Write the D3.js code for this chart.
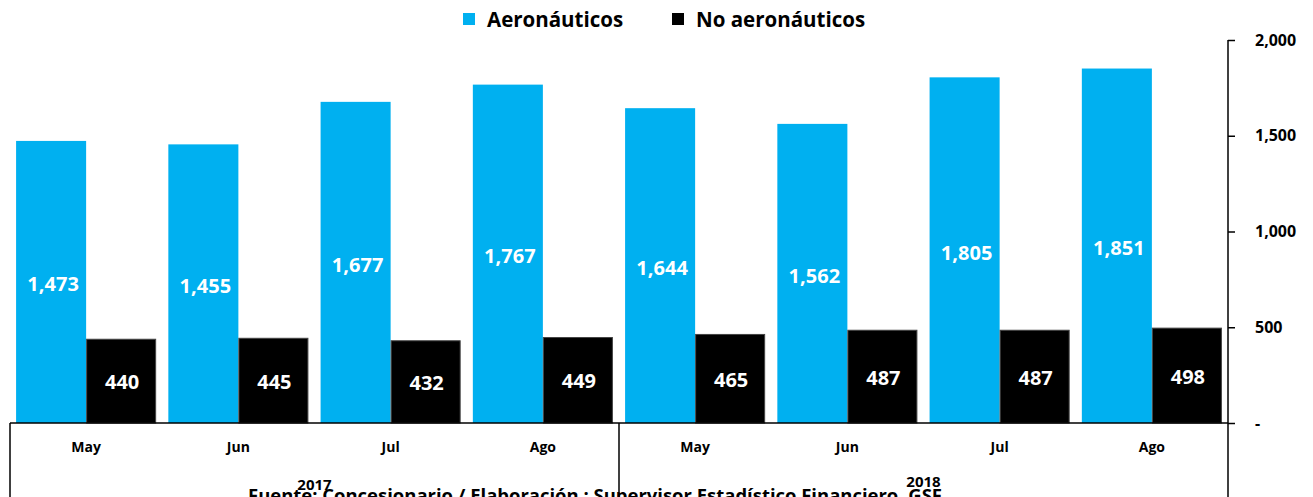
<!DOCTYPE html>
<html>
<head>
<meta charset="utf-8">
<script src="https://cdn.jsdelivr.net/npm/d3@7"></script>
<style>
  html, body { margin: 0; padding: 0; background: #fff; }
  svg { display: block; font-family: "Open Sans", "Noto Sans", sans-serif; }
</style>
</head>
<body>
<svg id="chart" width="1313" height="497"></svg>
<script>
// Ingresos por tipo, mayo–agosto 2017 y 2018
const months = ["May", "Jun", "Jul", "Ago", "May", "Jun", "Jul", "Ago"];
const years = ["2017", "2018"];
const aeronauticos = [1473, 1455, 1677, 1767, 1644, 1562, 1805, 1851];
const noAeronauticos = [440, 445, 432, 449, 465, 487, 487, 498];
const yTicks = [0, 500, 1000, 1500, 2000];
const seriesNames = ["Aeronáuticos", "No aeronáuticos"];
const source = "Fuente: Concesionario / Elaboración : Supervisor Estadístico Financiero. GSF";

const cyan = "#00B0F0";
const black = "#000000";

const svg = d3.select("#chart");
const plotLeft = 10, plotRight = 1228, plotTop = 40, base = 423;

const idx = d3.range(months.length);
const x = d3.scaleBand().domain(idx).range([plotLeft, plotRight]).paddingInner(0.08).paddingOuter(0.04);
const xs = d3.scaleBand().domain([0, 1]).range([0, x.bandwidth()]);
const y = d3.scaleLinear().domain([0, 2000]).range([base, plotTop]);

const fmt = d3.format(",");

// bars
const groups = svg.append("g").selectAll("g").data(idx).join("g")
  .attr("transform", i => `translate(${x(i)},0)`);

groups.append("rect")
  .attr("x", xs(0)).attr("width", xs.bandwidth())
  .attr("y", i => y(aeronauticos[i])).attr("height", i => base - y(aeronauticos[i]))
  .attr("fill", cyan);

groups.append("rect")
  .attr("x", xs(1) + 0.5).attr("width", xs.bandwidth() - 1)
  .attr("y", i => y(noAeronauticos[i]) + 0.5).attr("height", i => base - y(noAeronauticos[i]) - 0.5)
  .attr("fill", black).attr("stroke", "#444").attr("stroke-width", 1);

// value labels
groups.append("text")
  .attr("x", xs(0) + xs.bandwidth() / 2 + 2)
  .attr("y", i => (y(aeronauticos[i]) + base) / 2 + 4)
  .attr("text-anchor", "middle").attr("dominant-baseline", "middle")
  .attr("fill", "#fff").attr("font-weight", 700).attr("font-size", 20)
  .text(i => fmt(aeronauticos[i]));

groups.append("text")
  .attr("x", xs(1) + xs.bandwidth() / 2 + 1)
  .attr("y", i => (y(noAeronauticos[i]) + base) / 2 + 3)
  .attr("text-anchor", "middle").attr("dominant-baseline", "middle")
  .attr("fill", "#fff").attr("font-weight", 700).attr("font-size", 20)
  .text(i => fmt(noAeronauticos[i]));

// category axis frame
const mid = (x(3) + x.bandwidth() + x(4)) / 2;
svg.append("line").attr("x1", plotLeft).attr("x2", plotRight).attr("y1", base).attr("y2", base)
  .attr("stroke", "#000").attr("stroke-width", 1.5);
[plotLeft, mid].forEach(px => {
  svg.append("line").attr("x1", px).attr("x2", px).attr("y1", base).attr("y2", 497)
    .attr("stroke", "#000").attr("stroke-width", 1.5);
});

svg.append("g").selectAll("text").data(idx).join("text")
  .attr("x", i => x(i) + x.bandwidth() / 2)
  .attr("y", 452)
  .attr("text-anchor", "middle")
  .attr("font-weight", 700).attr("font-size", 14)
  .text(i => months[i]);

// source note, partly clipped by the lower edge
svg.append("text")
  .attr("x", 248).attr("y", 502)
  .attr("font-weight", 700).attr("font-size", 18)
  .attr("textLength", 694).attr("lengthAdjust", "spacingAndGlyphs")
  .text(source);

const yearCenters = [(plotLeft + mid) / 2, (mid + plotRight) / 2];
svg.append("g").selectAll("text").data(years).join("text")
  .attr("x", (d, i) => yearCenters[i])
  .attr("y", (d, i) => i === 0 ? 490 : 487)
  .attr("text-anchor", "middle")
  .attr("font-weight", 700).attr("font-size", 15)
  .text(d => d);

// value axis on the right
const yAxis = d3.axisRight(y).tickValues(yTicks).tickSize(7).tickPadding(20)
  .tickFormat(d => d === 0 ? "-" : fmt(d));
const ya = svg.append("g").attr("transform", `translate(${plotRight},0)`).call(yAxis);
ya.select(".domain").remove();
ya.selectAll(".tick line").attr("stroke", "#000").attr("stroke-width", 1.5);
ya.selectAll(".tick text").attr("font-weight", 700).attr("font-size", 16)
  .attr("font-family", "'Open Sans', sans-serif").attr("fill", "#000");
svg.append("line").attr("x1", plotRight).attr("x2", plotRight).attr("y1", plotTop).attr("y2", 497)
  .attr("stroke", "#000").attr("stroke-width", 1.5);

// legend
const legend = svg.append("g");
const legendItems = [
  { name: seriesNames[0], color: cyan, x: 463 },
  { name: seriesNames[1], color: black, x: 672 }
];
legendItems.forEach(d => {
  legend.append("rect").attr("x", d.x).attr("y", 13).attr("width", 12).attr("height", 12).attr("fill", d.color);
  legend.append("text").attr("x", d.x + 24).attr("y", 27)
    .attr("font-weight", 700).attr("font-size", 20.5).text(d.name);
});
</script>
</body>
</html>
